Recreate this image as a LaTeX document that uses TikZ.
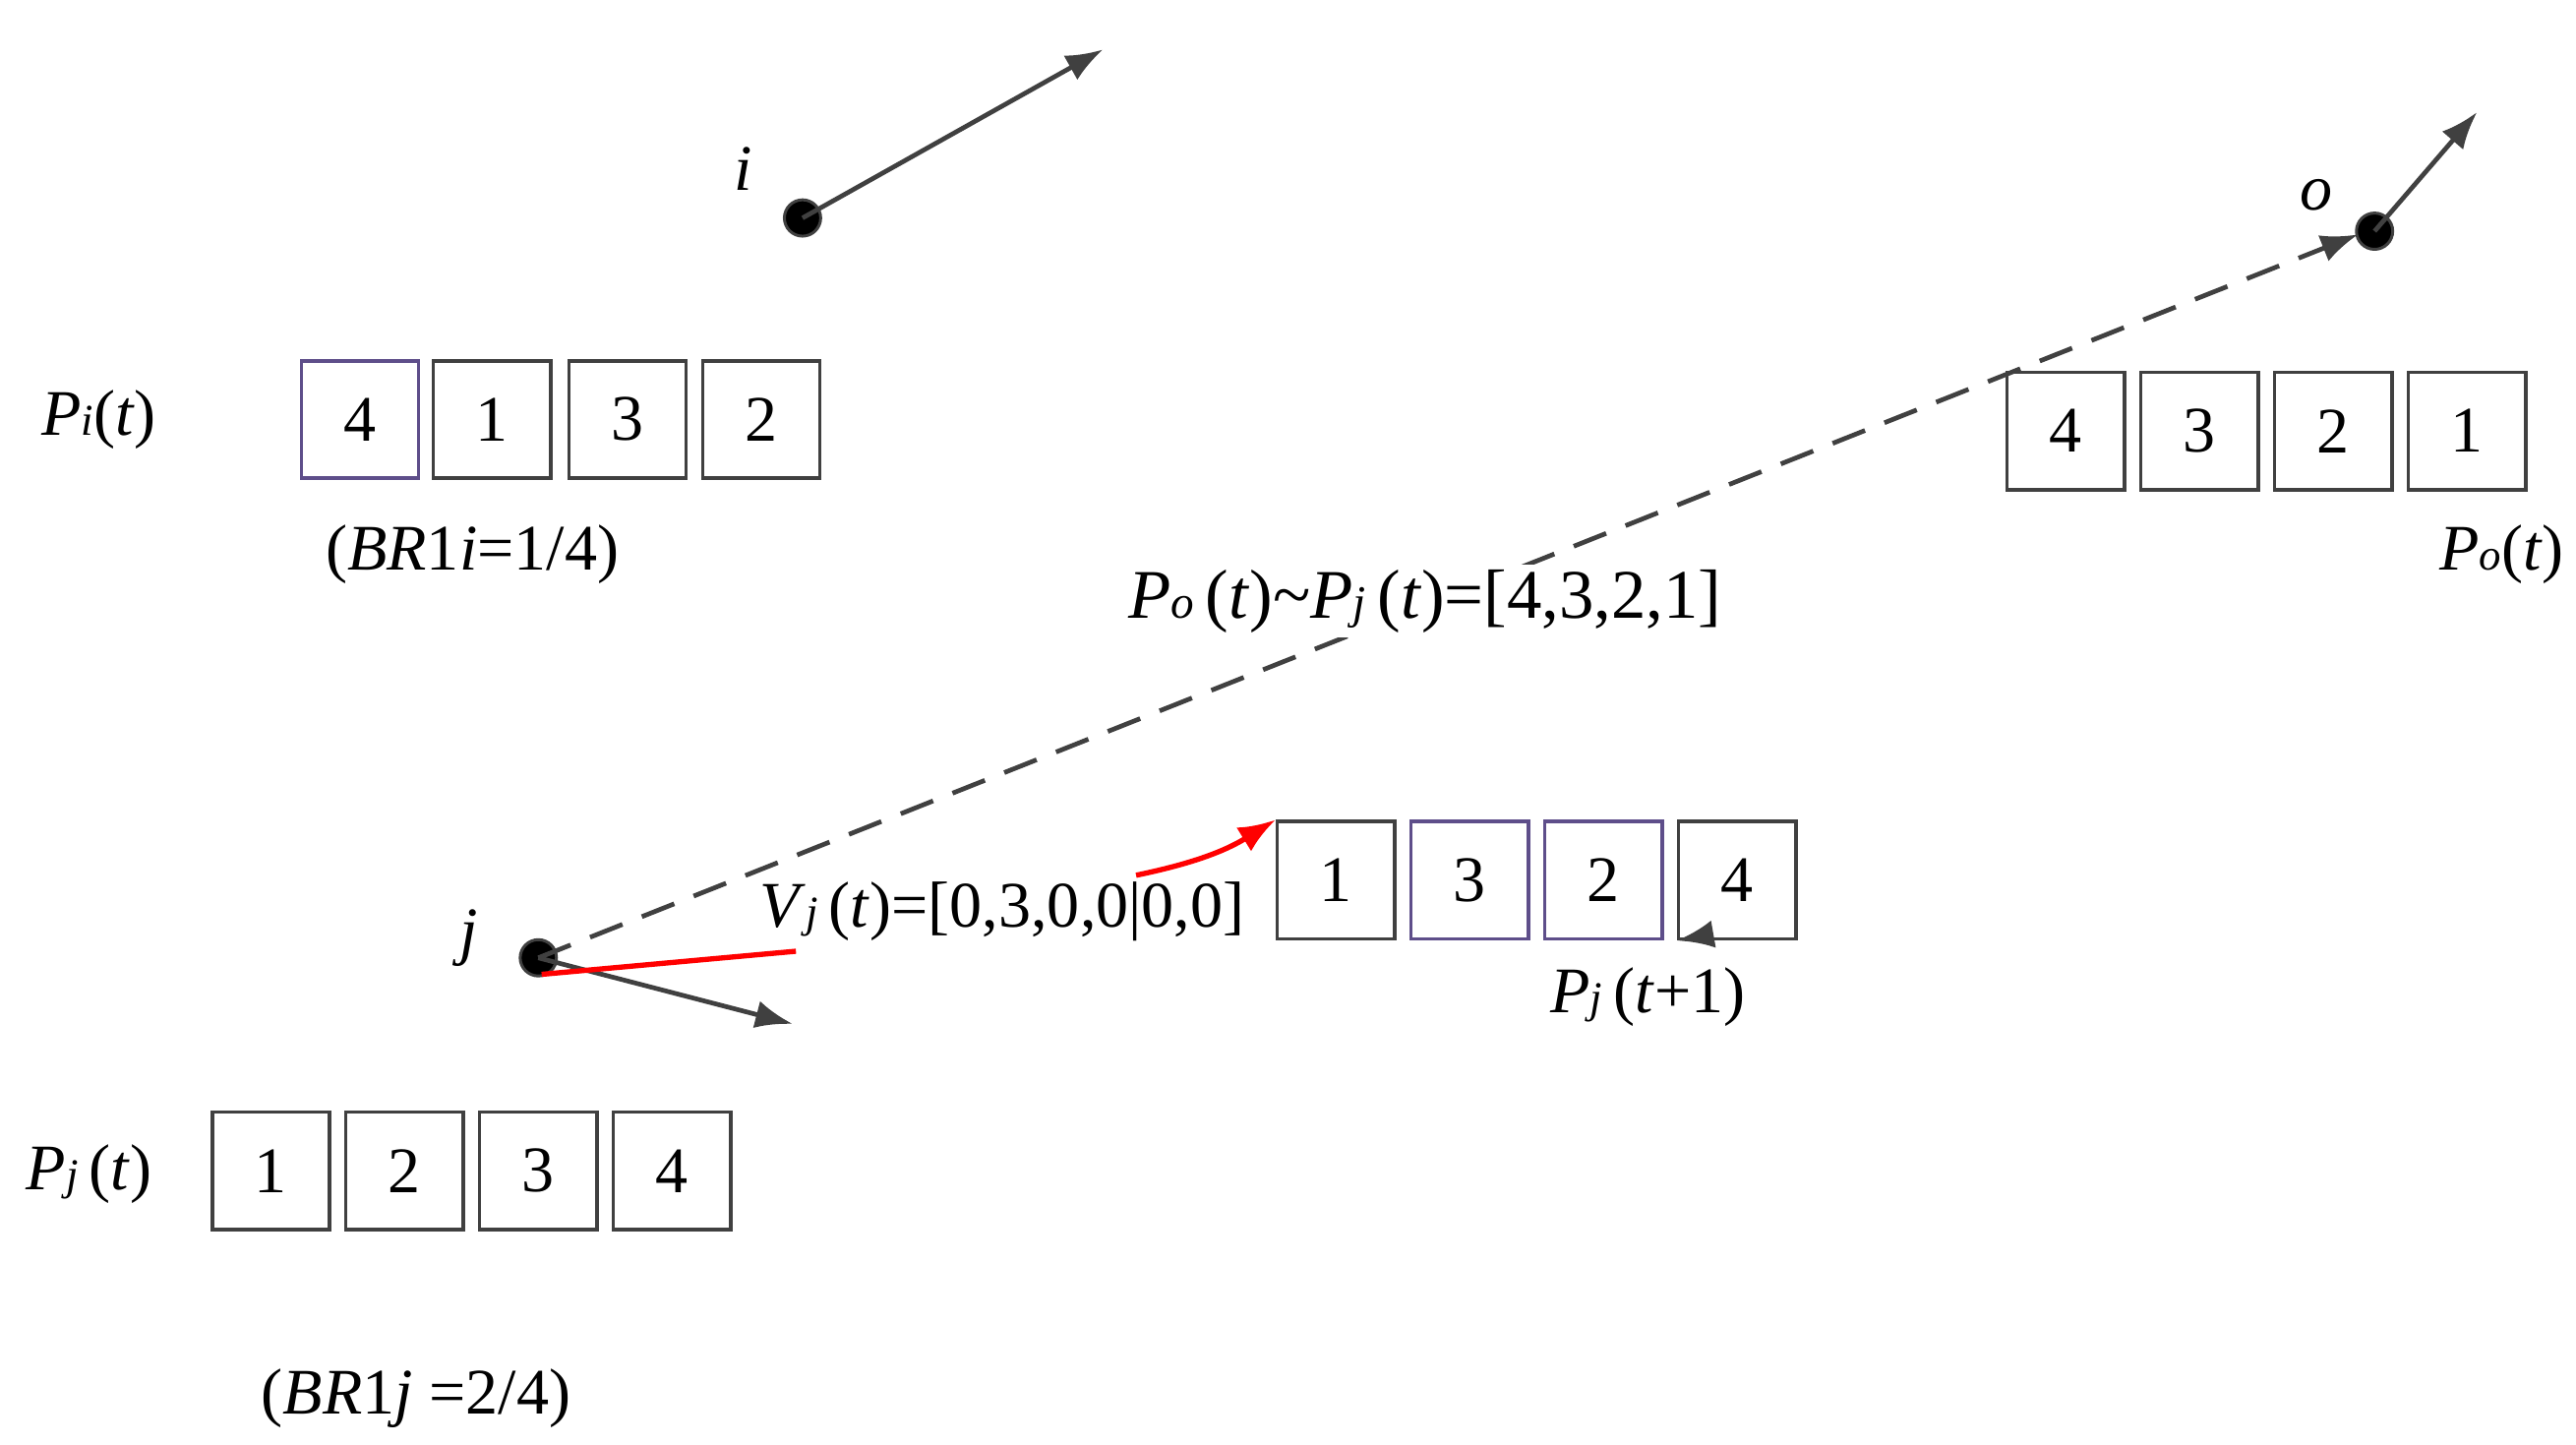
\documentclass[tikz,border=0pt]{standalone}
\usepackage{fontspec}
\setmainfont{Liberation Serif}
\usetikzlibrary{arrows.meta}
\definecolor{dk}{HTML}{404040}
\definecolor{pu}{HTML}{5E4E8A}
\begin{document}
\begin{tikzpicture}[x=0.05cm,y=-0.05cm,
  cell/.style={draw=dk,line width=3pt,minimum width=3.55cm,minimum height=3.55cm,inner sep=0pt,font=\fontsize{56}{60}\selectfont},
  pcell/.style={cell,draw=pu},
  lbl/.style={font=\fontsize{56}{60}\selectfont,inner sep=0pt},
  dot/.style={circle,fill=black,draw=dk,line width=2.5pt,minimum size=1.1cm,inner sep=0pt},
  arr/.style={draw=dk,line width=4pt,-{Latex[length=32pt,width=24pt]}},
  ]
\useasboundingbox (0,0) rectangle (1560,875);
% nodes
\node[dot] (i) at (486,132) {};
\node[dot] (o) at (1438,140) {};
\node[dot] (j) at (326,580) {};
\coordinate (ia) at (668,30);
\coordinate (oa) at (1500,68);
\coordinate (ja) at (480,620);
\coordinate (oin) at (1428,142);
\draw[arr] (i.center) -- (ia);
\draw[arr] (o.center) -- (oa);
\draw[arr] (j.center) -- (ja);
\draw[arr,dash pattern=on 30pt off 18pt] (j.center) -- (oin);
\node[lbl] (il) at (450,102) {\itshape i};
\node[lbl] (ol) at (1403,118) {\itshape o};
\node[lbl] (jl) at (284,568) {\itshape j};
% Pi boxes
\node[pcell] (a1) at (218,254) {4};
\node[cell] (a2) at (298,254) {1};
\node[cell] (a3) at (380,254) {3};
\node[cell] (a4) at (461,254) {2};
% Po boxes
\node[cell] (b1) at (1251,261) {4};
\node[cell] (b2) at (1332,261) {3};
\node[cell] (b3) at (1413,261) {2};
\node[cell] (b4) at (1494,261) {1};
% Pj(t+1)
\node[cell] (c1) at (809,533) {1};
\node[pcell] (c2) at (890,533) {3};
\node[pcell] (c3) at (971,533) {2};
\node[cell] (c4) at (1052,533) {4};
% Pj(t)
\node[cell] (d1) at (164,709) {1};
\node[cell] (d2) at (245,709) {2};
\node[cell] (d3) at (326,709) {3};
\node[cell] (d4) at (407,709) {4};
% labels
\node[lbl] (pil) at (60,254) {\textit{P}{\fontsize{38}{40}\selectfont\textit{i}}(\textit{t})};
\node[lbl] (bri) at (286,336) {(\textit{BR}1\textit{i}=1/4)};
\node[lbl] (pol) at (1515,336) {\textit{P}{\fontsize{38}{40}\selectfont\textit{o}}(\textit{t})};
\node[lbl,font=\fontsize{60}{64}\selectfont,fill=white,inner sep=4pt] (mid) at (863,364) {\textit{P}{\fontsize{40}{40}\selectfont\textit{o}}\,(\textit{t})\textasciitilde\textit{P}{\fontsize{40}{40}\selectfont\textit{j}}\,(\textit{t})=[4,3,2,1]};
\node[lbl] (vl) at (607,552) {\textit{V}{\fontsize{38}{40}\selectfont\textit{j}}\,(\textit{t})=[0,3,0,0|0,0]};
\node[lbl] (pjn) at (998,604) {\textit{P}{\fontsize{38}{40}\selectfont\textit{j}}\,(\textit{t}+1)};
\node[lbl] (pjl) at (54,711) {\textit{P}{\fontsize{38}{40}\selectfont\textit{j}}\,(\textit{t})};
\node[lbl] (brj) at (252,847) {(\textit{BR}1\textit{j} =2/4)};
% red strokes
\coordinate (r0) at (328,590);
\coordinate (r1) at (482,576);
\coordinate (r2) at (688,530);
\draw[red,line width=4.5pt] (r0) -- (r1);
\draw[red,line width=4.5pt,-{Latex[length=32pt,width=24pt]}] (r2) to[bend right=10] (c1.north west);
% small arrow at box 4
\coordinate (s0) at (1030,567);
\draw[arr] (s0) -- (c4.south west);
\end{tikzpicture}
\end{document}
